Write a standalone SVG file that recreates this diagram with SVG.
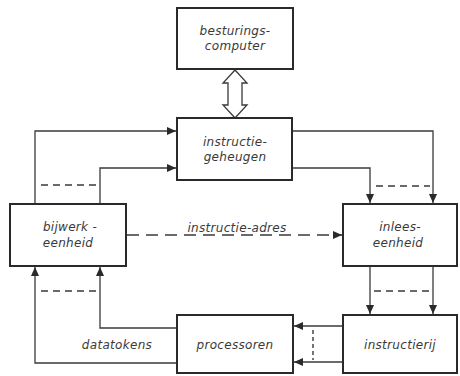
<svg xmlns="http://www.w3.org/2000/svg" width="460" height="376" viewBox="0 0 460 376">
<style>
.box{fill:#fff;stroke:#2a2a2a;stroke-width:2}
.ln{fill:none;stroke:#3a3a3a;stroke-width:1.3}
.dash{fill:none;stroke:#3a3a3a;stroke-width:1.4;stroke-dasharray:7,5}
.t{font-family:"DejaVu Sans","Liberation Sans",sans-serif;font-style:italic;font-size:12px;fill:#3a3a3a;text-anchor:middle;letter-spacing:0.3px}
</style>
<defs>
<marker id="ah" markerWidth="10" markerHeight="8" refX="9" refY="4" orient="auto" markerUnits="userSpaceOnUse">
<path d="M0,0 L9,4 L0,8 z" fill="#2a2a2a"/>
</marker>
</defs>
<rect width="460" height="376" fill="#fff"/>
<g id="connectors">
<path class="ln" d="M235,70 L247,83 L242,83 L242,105 L247,105 L235,118 L223,105 L228,105 L228,83 L223,83 Z" fill="#fff"/>
<path class="ln" d="M35,204 V131 H176" marker-end="url(#ah)"/>
<path class="ln" d="M100,204 V168 H176" marker-end="url(#ah)"/>
<line class="dash" x1="41" y1="185" x2="96" y2="185"/>
<path class="ln" d="M293,131 H433 V203" marker-end="url(#ah)"/>
<path class="ln" d="M293,168 H370 V203" marker-end="url(#ah)"/>
<line class="dash" x1="376" y1="186" x2="430" y2="186"/>
<line class="dash" x1="127" y1="235" x2="342" y2="235" marker-end="url(#ah)" style="stroke-dasharray:12,7"/>
<path class="ln" d="M370,267 V314" marker-end="url(#ah)"/>
<path class="ln" d="M433,267 V314" marker-end="url(#ah)"/>
<line class="dash" x1="374" y1="291" x2="430" y2="291"/>
<path class="ln" d="M343,326 H294" marker-end="url(#ah)"/>
<path class="ln" d="M343,362 H294" marker-end="url(#ah)"/>
<line class="dash" x1="313" y1="330" x2="313" y2="360" style="stroke-dasharray:4,3"/>
<path class="ln" d="M177,328 H100 V267" marker-end="url(#ah)"/>
<path class="ln" d="M177,363 H35 V267" marker-end="url(#ah)"/>
<line class="dash" x1="41" y1="291" x2="96" y2="291"/>
<text class="t" x="237" y="232">instructie-adres</text>
<text class="t" x="117" y="349">datatokens</text>
</g>
<g id="besturingscomputer">
<rect class="box" x="177" y="8" width="116" height="61"/>
<text class="t" x="235" y="35">besturings-</text>
<text class="t" x="235" y="50">computer</text>
</g>
<g id="instructiegeheugen">
<rect class="box" x="177" y="118" width="115" height="62"/>
<text class="t" x="235" y="146">instructie-</text>
<text class="t" x="235" y="161">geheugen</text>
</g>
<g id="bijwerkeenheid">
<rect class="box" x="10" y="204" width="116" height="62"/>
<text class="t" x="70" y="231">bijwerk -</text>
<text class="t" x="68" y="247">eenheid</text>
</g>
<g id="inleeseenheid">
<rect class="box" x="343" y="204" width="114" height="62"/>
<text class="t" x="400" y="231">inlees-</text>
<text class="t" x="398" y="247">eenheid</text>
</g>
<g id="processoren">
<rect class="box" x="177" y="315" width="116" height="58"/>
<text class="t" x="235" y="349">processoren</text>
</g>
<g id="instructierij">
<rect class="box" x="343" y="315" width="114" height="58"/>
<text class="t" x="400" y="349">instructierij</text>
</g>
</svg>
